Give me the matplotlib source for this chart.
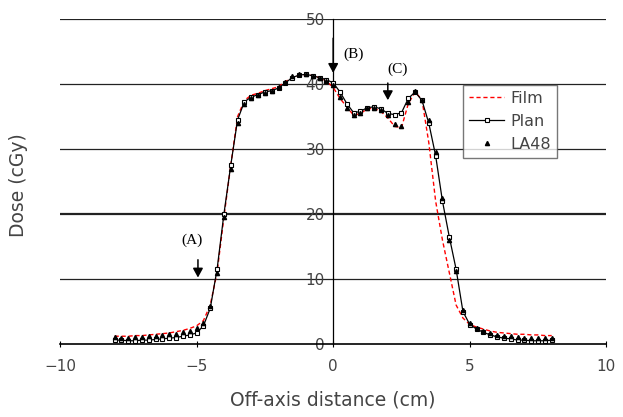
import numpy as np
import matplotlib
matplotlib.use("Agg")
from matplotlib import pyplot as plt

# off-axis position (cm)
positions = [-8.0, -7.75, -7.5, -7.25, -7.0, -6.75, -6.5, -6.25, -6.0, -5.75,
             -5.5, -5.25, -5.0, -4.75, -4.5, -4.25, -4.0, -3.75, -3.5, -3.25,
             -3.0, -2.75, -2.5, -2.25, -2.0, -1.75, -1.5, -1.25, -1.0, -0.75,
             -0.5, -0.25, 0.0, 0.25, 0.5, 0.75, 1.0, 1.25, 1.5, 1.75,
             2.0, 2.25, 2.5, 2.75, 3.0, 3.25, 3.5, 3.75, 4.0, 4.25,
             4.5, 4.75, 5.0, 5.25, 5.5, 5.75, 6.0, 6.25, 6.5, 6.75,
             7.0, 7.25, 7.5, 7.75, 8.0]

# dose (cGy)
film = [1.2, 1.2, 1.2, 1.3, 1.3, 1.4, 1.5, 1.6, 1.7, 1.9,
        2.1, 2.4, 2.8, 3.6, 6.0, 11.0, 19.5, 27.5, 35.0, 37.5,
        38.3, 38.6, 39.0, 39.3, 39.6, 40.4, 41.0, 41.3, 41.5, 41.3,
        41.0, 40.5, 39.5, 37.8, 36.5, 35.2, 35.5, 36.2, 36.3, 35.8,
        34.8, 33.5, 33.3, 37.0, 38.8, 37.6, 31.0, 22.0, 16.0, 11.0,
        6.0, 4.0, 3.0, 2.6, 2.3, 2.0, 1.8, 1.7, 1.6, 1.5,
        1.5, 1.4, 1.4, 1.3, 1.3]

plan = [0.6, 0.6, 0.5, 0.5, 0.6, 0.6, 0.7, 0.8, 0.9, 1.0,
        1.2, 1.4, 1.7, 2.8, 5.5, 11.5, 20.0, 27.5, 34.5, 37.3,
        38.0, 38.4, 38.8, 39.0, 39.4, 40.2, 41.0, 41.4, 41.5, 41.3,
        41.0, 40.7, 40.2, 38.8, 37.0, 35.6, 35.8, 36.4, 36.5, 36.2,
        35.5, 35.3, 35.6, 37.8, 38.8, 37.5, 34.0, 29.0, 22.0, 16.5,
        11.5, 5.0, 3.0, 2.3, 1.8, 1.4, 1.1, 0.9, 0.8, 0.6,
        0.6, 0.5, 0.5, 0.5, 0.6]

la48 = [1.1, 1.0, 1.0, 1.1, 1.1, 1.2, 1.3, 1.4, 1.5, 1.6,
        1.8, 2.0, 2.4, 3.3, 5.8, 11.0, 19.5, 27.0, 34.0, 37.0,
        37.9, 38.3, 38.6, 39.0, 39.5, 40.3, 41.2, 41.6, 41.6, 41.3,
        40.9, 40.5, 39.8, 38.0, 36.4, 35.3, 35.6, 36.3, 36.4, 36.0,
        35.2, 33.8, 33.5, 37.2, 38.9, 37.6, 34.5, 29.5, 22.5, 16.0,
        11.2, 5.2, 3.2, 2.5, 2.0, 1.7, 1.4, 1.3, 1.2, 1.1,
        1.0, 1.0, 1.0, 1.0, 1.0]

x_ticks = [-10, -5, 0, 5, 10]
y_ticks = [0, 10, 20, 30, 40, 50]

text_color = "#444444"

fig = plt.figure(figsize=(6.23, 4.17), dpi=100)
ax = fig.add_axes([0.0963, 0.175, 0.877, 0.779])

ax.set_xlim(-10, 10)
ax.set_ylim(0, 50)

# horizontal grid lines; the 20 and 50 lines come out heavier
for y in y_ticks[1:]:
    lw = 1.6 if y in (20, 50) else 0.9
    ax.axhline(y, color="#222222", lw=lw, zorder=1)

ax.plot(positions, film, color="red", ls=(0, (3, 2)), lw=1.0, label="Film", zorder=3)
ax.plot(positions, plan, color="black", lw=0.9, marker="s", ms=3.5,
        mfc="white", mec="black", mew=0.8, label="Plan", zorder=4)
ax.plot(positions, la48, ls="none", marker="^", ms=3, color="black",
        label="LA48", zorder=5)

for side in ("top", "right"):
    ax.spines[side].set_visible(False)
ax.spines["left"].set_position(("data", 0))
ax.spines["left"].set_linewidth(0.9)
ax.spines["bottom"].set_linewidth(1.2)

ax.set_xticks(x_ticks)
ax.set_yticks(y_ticks)
ax.tick_params(axis="x", direction="inout", length=5, width=0.8,
               labelsize=11, labelcolor=text_color, pad=8)
ax.tick_params(axis="y", direction="inout", length=0,
               labelsize=11, labelcolor=text_color, pad=6)

ax.set_xlabel("Off-axis distance (cm)", fontsize=13.5, color=text_color, labelpad=12)
fig.text(0.03, 0.555, "Dose (cGy)", rotation=90, fontsize=13.5,
         color=text_color, ha="center", va="center")

# arrows marking the measurement points
arrow = dict(arrowstyle="-|>,head_width=0.3,head_length=0.55", color="black", lw=1.1)
ax.annotate("", xy=(-4.95, 9.8), xytext=(-4.95, 13.4), arrowprops=arrow)
ax.text(-5.15, 16.0, "(A)", ha="center", va="center", fontsize=11,
        family="Liberation Serif")
ax.annotate("", xy=(0.0, 41.3), xytext=(0.0, 47.5), arrowprops=arrow)
ax.text(0.75, 44.6, "(B)", ha="center", va="center", fontsize=11,
        family="Liberation Serif")
ax.annotate("", xy=(2.0, 37.1), xytext=(2.0, 40.6), arrowprops=arrow)
ax.text(2.35, 42.3, "(C)", ha="center", va="center", fontsize=11,
        family="Liberation Serif")

leg = ax.legend(loc="upper left", bbox_to_anchor=(0.743, 0.797),
                bbox_transform=fig.transFigure, fontsize=11.5, frameon=True,
                fancybox=False, edgecolor="#555555", handlelength=2.2,
                borderpad=0.4, labelspacing=0.5, handletextpad=0.35,
                borderaxespad=0)
leg.get_frame().set_linewidth(1.0)
for t in leg.get_texts():
    t.set_color(text_color)

fig.savefig("out.png", dpi=100)
